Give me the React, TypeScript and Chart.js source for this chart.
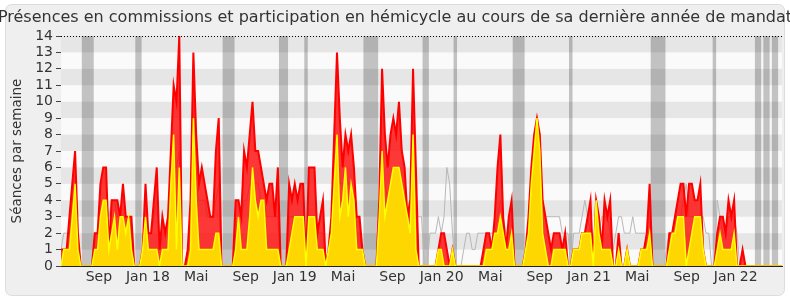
import { useEffect, useRef } from "react";
import { Chart, registerables } from "chart.js";

Chart.register(...registerables);

const TITLE =
  "Présences en commissions et participation en hémicycle au cours de sa dernière année de mandat";
const Y_TITLE = "Séances par semaine";

// Weekly series, week 0 starts on START_DATE
const START_DATE = "2017-05-30";

// Total weekly activity (red area)
const TOTAL = [
  1, 1, 1, 3, 5, 7, 2, 0, 0, 0,
  0, 0, 2, 2, 5, 6, 6, 1, 4, 4,
  4, 3, 5, 3, 3, 3, 0, 0, 0, 1,
  5, 2, 2, 4, 6, 1, 3, 2, 3, 7,
  11, 10, 14, 0, 0, 1, 4, 13, 8, 5,
  6, 5, 4, 3, 3, 7, 9, 0, 0, 0,
  0, 0, 4, 4, 3, 7, 6, 8, 10, 7,
  7, 6, 5, 4, 5, 5, 3, 6, 0, 0,
  0, 5, 4, 5, 4, 5, 5, 0, 6, 6,
  6, 2, 3, 4, 0, 1, 3, 8, 13, 9,
  6, 8, 7, 8, 6, 3, 3, 1, 0, 0,
  0, 0, 0, 4, 12, 8, 6, 8, 9, 8,
  10, 7, 6, 3, 4, 12, 6, 0, 0, 0,
  0, 0, 0, 0, 1, 2, 2, 1, 0, 1,
  0, 0, 0, 0, 0, 0, 0, 0, 0, 0,
  1, 2, 2, 1, 3, 6, 8, 3, 1, 3,
  4, 0, 0, 0, 0, 1, 3, 6, 8, 9,
  8, 4, 3, 2, 1, 2, 2, 2, 1, 2,
  0, 0, 1, 1, 1, 2, 2, 3, 4, 0,
  4, 3, 1, 4, 3, 4, 0, 0, 2, 0,
  0, 1, 0, 0, 0, 0, 1, 1, 2, 5,
  0, 0, 0, 0, 0, 0, 2, 2, 3, 4,
  5, 5, 3, 5, 5, 4, 4, 5, 1, 0,
  0, 0, 0, 2, 3, 3, 2, 4, 3, 4,
  0, 0, 1, 0, 0, 0, 0, 0, 0, 0,
  0, 0, 0, 0, 0, 0, 0,
];

// Commission presences (yellow area)
const COMMISSION = [
  0, 1, 1, 1, 3, 5, 1, 0, 0, 0,
  0, 0, 1, 1, 3, 4, 4, 1, 2, 3,
  1, 3, 3, 2, 3, 1, 0, 0, 0, 1,
  3, 1, 1, 1, 1, 0, 1, 1, 1, 5,
  8, 1, 6, 0, 0, 0, 1, 9, 4, 1,
  1, 1, 1, 1, 1, 2, 2, 0, 0, 0,
  0, 0, 1, 3, 1, 1, 1, 3, 6, 4,
  3, 4, 4, 1, 1, 1, 1, 1, 0, 0,
  0, 1, 2, 3, 3, 3, 3, 0, 3, 3,
  3, 1, 1, 1, 0, 1, 2, 5, 8, 3,
  4, 6, 3, 5, 4, 1, 1, 1, 0, 0,
  0, 0, 0, 3, 7, 3, 4, 5, 6, 6,
  6, 5, 4, 3, 2, 8, 1, 0, 0, 0,
  0, 0, 0, 0, 1, 1, 0, 0, 0, 1,
  0, 0, 0, 0, 0, 0, 0, 0, 0, 0,
  0, 1, 1, 1, 2, 2, 3, 2, 1, 1,
  2, 0, 0, 0, 0, 1, 2, 5, 7, 9,
  7, 2, 1, 0, 0, 1, 1, 1, 1, 1,
  0, 0, 1, 1, 1, 2, 2, 2, 2, 0,
  4, 2, 1, 1, 1, 1, 0, 0, 1, 0,
  0, 1, 0, 0, 0, 0, 1, 1, 1, 2,
  0, 0, 0, 0, 0, 0, 1, 2, 2, 3,
  3, 3, 0, 1, 2, 3, 3, 3, 1, 0,
  0, 0, 0, 1, 2, 1, 1, 1, 1, 2,
  0, 0, 0, 0, 0, 0, 0, 0, 0, 0,
  0, 0, 0, 0, 0, 0, 0,
];

// Median of all deputies (grey line)
const MEDIAN = [
  1, 2, 2, 2, 4, 5, 2, 0, 0, 0,
  0, 0, 2, 2, 4, 4, 4, 3, 4, 4,
  3, 3, 3, 3, 2, 1, 0, 0, 0, 1,
  3, 2, 2, 3, 4, 1, 2, 2, 3, 5,
  6, 6, 7, 0, 0, 1, 3, 6, 5, 4,
  4, 4, 3, 3, 3, 4, 5, 0, 0, 0,
  0, 0, 2, 3, 3, 4, 4, 5, 5, 5,
  5, 4, 4, 3, 3, 3, 3, 3, 0, 0,
  0, 3, 3, 3, 3, 3, 3, 0, 3, 3,
  3, 2, 2, 2, 0, 1, 2, 4, 6, 5,
  5, 5, 5, 5, 4, 2, 2, 1, 0, 0,
  0, 0, 0, 3, 5, 5, 4, 5, 5, 5,
  5, 4, 4, 3, 3, 5, 3, 3, 3, 0,
  0, 2, 2, 2, 3, 2, 3, 6, 5, 2,
  0, 0, 0, 1, 2, 2, 1, 1, 2, 2,
  2, 2, 2, 2, 2, 3, 4, 3, 2, 2,
  2, 0, 0, 0, 0, 1, 2, 4, 5, 6,
  5, 4, 3, 3, 3, 3, 3, 3, 2, 2,
  2, 0, 2, 2, 2, 3, 4, 3, 2, 0,
  2, 2, 3, 3, 3, 2, 1, 2, 3, 3,
  2, 2, 2, 3, 2, 2, 2, 2, 2, 2,
  0, 0, 0, 0, 0, 1, 2, 2, 3, 3,
  3, 4, 5, 3, 3, 3, 3, 3, 3, 2,
  2, 0, 0, 4, 3, 2, 2, 3, 3, 3,
  2, 0, 1, 0, 0, 0, 0, 0, 0, 0,
  0, 0, 0, 0, 0, 0, 0,
];

// Parliamentary holiday weeks (grey vertical bands)
const HOLIDAY_WEEKS = [
  8, 9, 10, 11, 27, 28, 58, 59, 60, 61, 78, 79, 80, 87,
  108, 109, 110, 111, 112, 129, 130, 140, 161, 162, 163, 164, 181,
  210, 211, 212, 213, 214, 232, 247, 248, 250, 251, 253, 254,
];

const TICK_DATES = [
  "2017-09-01", "2018-01-01", "2018-05-01", "2018-09-01", "2019-01-01",
  "2019-05-01", "2019-09-01", "2020-01-01", "2020-05-01", "2020-09-01",
  "2021-01-01", "2021-05-01", "2021-09-01", "2022-01-01",
];
const TICK_LABELS = [
  "Sep", "Jan 18", "Mai", "Sep", "Jan 19", "Mai", "Sep", "Jan 20", "Mai",
  "Sep", "Jan 21", "Mai", "Sep", "Jan 22",
];

const Y_MAX = 14;
const FONT = "'DejaVu Sans', Verdana, sans-serif";

const weekOf = (d: string) =>
  (Date.parse(d) - Date.parse(START_DATE)) / (7 * 24 * 3600 * 1000);

export default function App() {
  const ref = useRef<HTMLCanvasElement | null>(null);

  useEffect(() => {
    if (!ref.current) return;
    const tickWeeks = TICK_DATES.map(weekOf);
    const lastWeek = TOTAL.length - 1;

    const frame = {
      id: "frame",
      beforeDraw(chart: any) {
        const { ctx, width, height } = chart;
        ctx.save();
        ctx.fillStyle = "#ffffff";
        ctx.fillRect(0, 0, width, height);
        ctx.beginPath();
        const x = 5.5, y = 4.5, w = width - 11, h = height - 9, r = 6;
        ctx.moveTo(x + r, y);
        ctx.arcTo(x + w, y, x + w, y + h, r);
        ctx.arcTo(x + w, y + h, x, y + h, r);
        ctx.arcTo(x, y + h, x, y, r);
        ctx.arcTo(x, y, x + w, y, r);
        ctx.closePath();
        ctx.fillStyle = "#efefef";
        ctx.fill();
        ctx.strokeStyle = "#dcdcdc";
        ctx.lineWidth = 1;
        ctx.stroke();
        // Title, drawn at its natural width (clipped by the canvas edges)
        ctx.fillStyle = "#333";
        ctx.font = `16px ${FONT}`;
        ctx.textAlign = "center";
        ctx.textBaseline = "middle";
        ctx.fillText(TITLE, width / 2, 17.7);
        ctx.restore();
      },
      beforeDatasetsDraw(chart: any) {
        const { ctx, chartArea: a } = chart;
        ctx.save();
        ctx.fillStyle = "#fafafa";
        ctx.fillRect(a.left, a.top, a.right - a.left, a.bottom - a.top);
        ctx.restore();
      },
      afterDatasetDraw(chart: any, args: any) {
        if (args.index !== 0) return;
        const { ctx, chartArea: a, scales } = chart;
        ctx.save();
        ctx.fillStyle = "rgba(0,0,0,0.08)";
        for (let k = 1; k < Y_MAX; k += 2) {
          const y1 = scales.y.getPixelForValue(k + 1);
          const y0 = scales.y.getPixelForValue(k);
          ctx.fillRect(a.left, y1, a.right - a.left, y0 - y1);
        }
        ctx.restore();
      },
      afterDatasetsDraw(chart: any) {
        const { ctx, chartArea: a, scales } = chart;
        const y = Math.round(scales.y.getPixelForValue(Y_MAX)) + 0.5;
        ctx.save();
        ctx.strokeStyle = "#000";
        ctx.lineWidth = 1;
        ctx.setLineDash([1, 2]);
        ctx.beginPath();
        ctx.moveTo(a.left, y);
        ctx.lineTo(a.right, y);
        ctx.stroke();
        ctx.restore();
      },
    };

    const chart = new Chart(ref.current, {
      type: "line",
      data: {
        datasets: [
          {
            type: "bar",
            data: HOLIDAY_WEEKS.map((w) => ({ x: w, y: Y_MAX })),
            backgroundColor: "#c2c2c2",
            borderWidth: 0,
            barPercentage: 1,
            categoryPercentage: 1,
            order: 10,
          } as any,
          {
            data: MEDIAN.map((v, i) => ({ x: i, y: v })),
            borderColor: "#b8b8b8",
            borderWidth: 1,
            pointRadius: 0,
            fill: false,
            tension: 0,
            order: 5,
          },
          {
            data: TOTAL.map((v, i) => ({ x: i, y: v })),
            borderColor: "#ff0000",
            backgroundColor: "rgba(255,0,0,0.78)",
            borderWidth: 2,
            pointRadius: 0,
            fill: "origin",
            tension: 0,
            order: 4,
          },
          {
            data: COMMISSION.map((v, i) => ({ x: i, y: v })),
            borderColor: "#ffff00",
            backgroundColor: "#ffd700",
            borderWidth: 1.5,
            pointRadius: 0,
            fill: "origin",
            tension: 0,
            order: 3,
          },
        ],
      },
      options: {
        animation: false,
        responsive: false,
        devicePixelRatio: 1,
        events: [],
        layout: { padding: { left: 0, right: 8, top: 36, bottom: 0 } },
        plugins: {
          legend: { display: false },
          tooltip: { enabled: false },
          title: { display: false },
        },
        scales: {
          x: {
            type: "linear",
            min: 0,
            max: lastWeek,
            offset: false,
            afterFit: (s: any) => {
              s.height = 34;
            },
            afterBuildTicks: (s: any) => {
              s.ticks = tickWeeks.map((v) => ({ value: v }));
            },
            ticks: {
              autoSkip: false,
              maxRotation: 0,
              padding: 3,
              color: "#333",
              font: { family: FONT, size: 14 },
              callback: (v: any) => {
                const idx = tickWeeks.findIndex((t) => Math.abs(t - v) < 1e-6);
                return idx >= 0 ? TICK_LABELS[idx] : "";
              },
            },
            grid: { display: false, drawTicks: false, offset: false },
            border: { display: true, color: "#222", width: 1 },
          },
          y: {
            min: 0,
            max: Y_MAX,
            afterFit: (s: any) => {
              s.width = 61;
            },
            ticks: {
              stepSize: 1,
              autoSkip: false,
              padding: 3,
              color: "#333",
              font: { family: FONT, size: 14 },
            },
            grid: {
              display: true,
              drawOnChartArea: false,
              drawTicks: true,
              tickLength: 5,
              tickColor: "#444",
            },
            border: { display: true, color: "#333", width: 1 },
            title: {
              display: true,
              text: Y_TITLE,
              color: "#333",
              font: { family: FONT, size: 13.5 },
              padding: { top: 9, bottom: 0 },
            },
          },
        },
      } as any,
      plugins: [frame],
    });
    return () => chart.destroy();
  }, []);

  return (
    <div style={{ position: "fixed", left: 0, top: 0, width: 790, height: 300 }}>
      <canvas ref={ref} width={790} height={300} style={{ width: 790, height: 300 }} />
    </div>
  );
}
